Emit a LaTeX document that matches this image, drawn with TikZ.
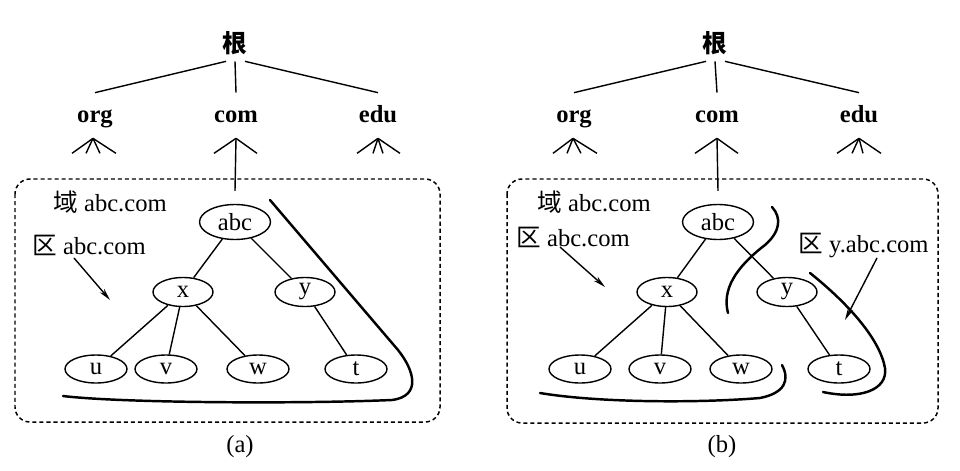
\documentclass[tikz,border=0pt]{standalone}
\usepackage{fontspec}
\setmainfont{Liberation Serif}
\newfontfamily\cjk{Noto Sans CJK SC}
\usetikzlibrary{positioning}
\usetikzlibrary{calc}
\usetikzlibrary{arrows.meta}
\usetikzlibrary{shapes}

\begin{document}
\begin{tikzpicture}[
			x=0.02cm, y=-0.02cm,
			every node/.style={font=\fontsize{14}{16}\selectfont},
			rootname/.style={font=\fontsize{14}{16}\selectfont\cjk\bfseries, inner sep=0pt, minimum height=0.72cm},
			top/.style={font=\fontsize{14}{16}\selectfont\bfseries, inner sep=0pt, text height=0.68em, text depth=0.22em, minimum height=1cm},
			host/.style={ellipse, draw, line width=0.8pt, inner sep=0pt, minimum width=1.24cm, minimum height=0.56cm},
			label/.style={anchor=west, inner sep=0pt},
			link/.style={line width=0.8pt},
			zone/.style={line width=1.4pt, line cap=round},
			pointer/.style={line width=0.8pt, -{Stealth[length=7pt, width=3.2pt]}},
			box/.style={dash pattern=on 2.3pt off 1.7pt, line width=0.85pt, rounded corners=0.3cm}
		]
			\useasboundingbox (0,0) rectangle (960,470);
			% (a)
			\node[rootname] (rootA) at (235,43) {根};
			\node[top] (orgA) at (95,118) {org};
			\node[top] (comA) at (236,118) {com};
			\node[top] (eduA) at (378,118) {edu};
			\draw[link] ($(rootA.south)+(-9,0)$) -- (orgA.north);
			\draw[link] (rootA.south) -- (comA.north);
			\draw[link] ($(rootA.south)+(10,0)$) -- (eduA.north);
			\foreach \d in {-21,-7,7,23} \draw[link] ($(orgA.south)+(-2,-5)$) -- ++(\d,15);
			\foreach \d in {-22,21} \draw[link] ($(comA.south)+(0,-5)$) -- ++(\d,15);
			\foreach \d in {-21,-5,5,22} \draw[link] ($(eduA.south)+(0,-5)$) -- ++(\d,15);
			\draw[box] (15,179) rectangle (440,422);
			\node[host, minimum width=1.42cm, minimum height=0.7cm] (abcA) at (235,222) {abc};
			\draw[link] ($(comA.south)+(0,-5)$) -- ($(abcA.north)+(0,-13)$);
			\node[host, minimum width=1.2cm, minimum height=0.58cm] (xA) at (183,292) {x};
			\node[host, minimum width=1.2cm, minimum height=0.58cm] (yA) at (305,292) {y};
			\node[host] (uA) at (96,369) {u};
			\node[host] (vA) at (166,369) {v};
			\node[host] (wA) at (258,369) {w};
			\node[host] (tA) at (356,369) {t};
			\draw[link] (abcA) -- (xA);
			\draw[link] (abcA) -- (yA);
			\draw[link] (xA) -- (uA);
			\draw[link] (xA) -- (vA);
			\draw[link] (xA) -- (wA);
			\draw[link] (yA) -- (tA);
			\draw[zone] (270,200) -- (398,350) .. controls (414,370) and (422,396) .. (392,400)
				.. controls (300,404) and (120,403) .. (63,396);
			\node[label] (domainA) at (53,202) {{\cjk 域} abc.com};
			\node[label] (zoneA) at (32,245) {{\cjk 区} abc.com};
			\coordinate (zoneAend) at (110,300);
			\draw[pointer] ($(zoneA.west)+(42,13)$) -- (zoneAend);
			\node (capA) at (240,447) {(a)};
			% (b)
			\node[rootname] (rootB) at (715,43) {根};
			\node[top] (orgB) at (574,118) {org};
			\node[top] (comB) at (717,118) {com};
			\node[top] (eduB) at (859,118) {edu};
			\draw[link] ($(rootB.south)+(-9,0)$) -- (orgB.north);
			\draw[link] (rootB.south) -- (comB.north);
			\draw[link] ($(rootB.south)+(10,0)$) -- (eduB.north);
			\foreach \d in {-20,-6,8,24} \draw[link] ($(orgB.south)+(-1,-5)$) -- ++(\d,15);
			\foreach \d in {-22,21} \draw[link] ($(comB.south)+(0,-5)$) -- ++(\d,15);
			\foreach \d in {-22,-7,4,22} \draw[link] ($(eduB.south)+(0,-5)$) -- ++(\d,15);
			\draw[box] (507,179) rectangle (938,423);
			\node[host, minimum width=1.42cm, minimum height=0.7cm] (abcB) at (718,222) {abc};
			\draw[link] ($(comB.south)+(0,-5)$) -- ($(abcB.north)+(0,-13)$);
			\node[host, minimum width=1.2cm, minimum height=0.58cm] (xB) at (667,292) {x};
			\node[host, minimum width=1.2cm, minimum height=0.58cm] (yB) at (787,292) {y};
			\node[host] (uB) at (580,369) {u};
			\node[host] (vB) at (660,369) {v};
			\node[host] (wB) at (741,369) {w};
			\node[host] (tB) at (839,369) {t};
			\draw[link] (abcB) -- (xB);
			\draw[link] (abcB) -- (yB);
			\draw[link] (xB) -- (uB);
			\draw[link] (xB) -- (vB);
			\draw[link] (xB) -- (wB);
			\draw[link] (yB) -- (tB);
			\draw[zone] (772,207) .. controls (782,218) and (780,232) .. (765,245)
				.. controls (735,268) and (722,290) .. (728,313);
			\draw[zone] (540,393) .. controls (600,403) and (700,403) .. (760,398)
				.. controls (785,393) and (790,380) .. (782,365);
			\draw[zone] (810,273) .. controls (850,305) and (880,340) .. (885,368)
				.. controls (888,390) and (860,400) .. (823,392);
			\node[label] (domainB) at (537,202) {{\cjk 域} abc.com};
			\node[label] (zoneB) at (516,237) {{\cjk 区} abc.com};
			\coordinate (zoneBend) at (605,287);
			\draw[pointer] ($(zoneB.west)+(44,10)$) -- (zoneBend);
			\node[label] (zoneC) at (798,245) {{\cjk 区} y.abc.com};
			\coordinate (zoneCend) at (845,320);
			\draw[pointer] ($(zoneC.west)+(79,13)$) -- (zoneCend);
			\node (capB) at (722,447) {(b)};
		\end{tikzpicture}
\end{document}
